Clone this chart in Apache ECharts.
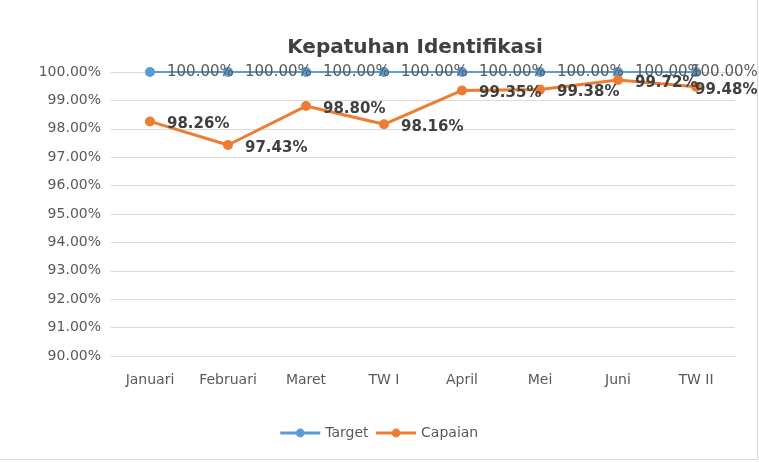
<!DOCTYPE html>
<html>
<head>
<meta charset="utf-8">
<script src="https://cdn.jsdelivr.net/npm/echarts@6/dist/echarts.min.js"></script>
<style>
  html, body { margin: 0; padding: 0; background: #fff; }
  #chart { width: 757px; height: 459px; border: 1px solid #d9d9d9; border-top: none; border-left: none; }
</style>
</head>
<body>
<div id="chart"></div>
<script>
// data
var categories = ['Januari', 'Februari', 'Maret', 'TW I', 'April', 'Mei', 'Juni', 'TW II'];
var target = [100, 100, 100, 100, 100, 100, 100, 100];
var capaian = [98.26, 97.43, 98.80, 98.16, 99.35, 99.38, 99.72, 99.48];

var font = '"DejaVu Sans", sans-serif';

function pct(v) {
    return Number(v).toFixed(2) + '%';
}

// the last label would run off the right edge, so pull it back inside (as Excel does)
function withEdgeLabel(values, dx, dy) {
    return values.map(function (v, i) {
        if (i === values.length - 1) {
            return { value: v, label: { offset: [dx, dy] } };
        }
        return v;
    });
}

var chart = echarts.init(document.getElementById('chart'));
chart.setOption({
    backgroundColor: '#fff',
    animation: false,
    color: ['#5B9BD5', '#ED7D31'],
    title: {
        text: 'Kepatuhan Identifikasi',
        left: 410,
        textAlign: 'center',
        top: 33,
        textStyle: { fontFamily: font, fontSize: 20, fontWeight: 'bold', color: '#404040' }
    },
    legend: {
        bottom: 14,
        left: 'center',
        itemWidth: 40,
        itemHeight: 11,
        itemGap: 6,
        lineStyle: { width: 3 },
        textStyle: { fontFamily: font, fontSize: 14, color: '#595959' },
        data: ['Target', 'Capaian']
    },
    grid: { left: 111, right: 22, top: 72, bottom: 103, containLabel: false },
    xAxis: {
        type: 'category',
        data: categories,
        boundaryGap: true,
        axisLine: { lineStyle: { color: '#d9d9d9', width: 1 } },
        axisTick: { show: false },
        axisLabel: { fontFamily: font, fontSize: 14, color: '#595959', margin: 17 }
    },
    yAxis: {
        type: 'value',
        min: 90,
        max: 100,
        interval: 1,
        axisLine: { show: false },
        axisTick: { show: false },
        splitLine: { lineStyle: { color: '#d9d9d9', width: 1 } },
        axisLabel: { fontFamily: font, fontSize: 14, color: '#595959', margin: 10, formatter: pct }
    },
    series: [
        {
            name: 'Target',
            type: 'line',
            data: withEdgeLabel(target, -22, 0),
            symbol: 'circle',
            symbolSize: 10,
            lineStyle: { width: 2 },
            label: {
                show: true,
                position: 'right',
                distance: 12,
                fontFamily: font,
                fontSize: 15,
                color: '#595959',
                formatter: function (p) { return pct(p.value); }
            }
        },
        {
            name: 'Capaian',
            type: 'line',
            data: withEdgeLabel(capaian, -18, 3),
            symbol: 'circle',
            symbolSize: 10,
            lineStyle: { width: 3 },
            label: {
                show: true,
                position: 'right',
                distance: 12,
                offset: [0, 3],
                fontFamily: font,
                fontSize: 15,
                fontWeight: 'bold',
                color: '#404040',
                formatter: function (p) { return pct(p.value); }
            }
        }
    ]
});
</script>
</body>
</html>
